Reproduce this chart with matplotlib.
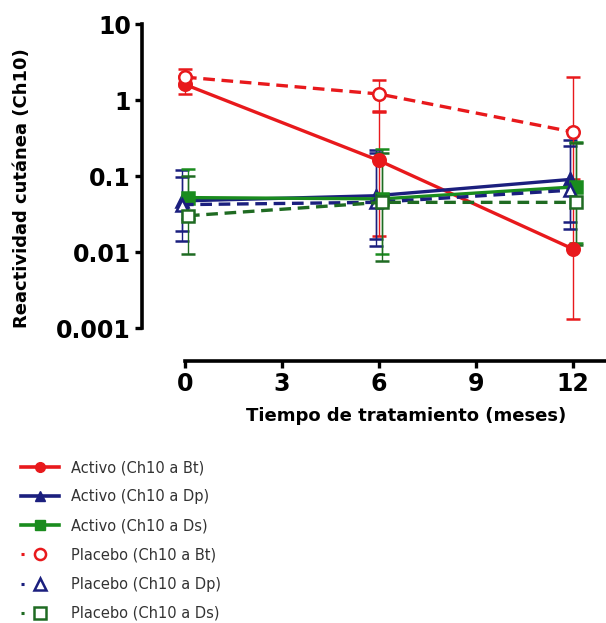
import matplotlib
matplotlib.use("Agg")
import matplotlib.pyplot as plt
import matplotlib.transforms as mtransforms
from matplotlib.lines import Line2D
import numpy as np

# time points (months)
months = [0, 6, 12]

# series: mean, lower and upper end of the error bar
activo_bt = [1.6, 0.16, 0.011]
activo_bt_lo = [1.2, 0.016, 0.0013]
activo_bt_hi = [2.1, 0.7, 0.09]

activo_dp = [0.047, 0.055, 0.09]
activo_dp_lo = [0.014, 0.015, 0.025]
activo_dp_hi = [0.12, 0.22, 0.3]

activo_ds = [0.052, 0.05, 0.072]
activo_ds_lo = [0.027, 0.0095, 0.013]
activo_ds_hi = [0.125, 0.23, 0.28]

placebo_bt = [2.0, 1.2, 0.38]
placebo_bt_lo = [1.55, 0.72, 0.075]
placebo_bt_hi = [2.55, 1.83, 2.0]

placebo_dp = [0.042, 0.045, 0.065]
placebo_dp_lo = [0.019, 0.012, 0.02]
placebo_dp_hi = [0.097, 0.2, 0.25]

placebo_ds = [0.03, 0.045, 0.045]
placebo_ds_lo = [0.0095, 0.0075, 0.0125]
placebo_ds_hi = [0.1, 0.2, 0.27]

labels = ["Activo (Ch10 a Bt)", "Activo (Ch10 a Dp)", "Activo (Ch10 a Ds)",
          "Placebo (Ch10 a Bt)", "Placebo (Ch10 a Dp)", "Placebo (Ch10 a Ds)"]
x_ticks = [0, 3, 6, 9, 12]
y_ticks = [10, 1, 0.1, 0.01, 0.001]
y_tick_labels = ["10", "1", "0.1", "0.01", "0.001"]

red = "#e8191c"
blue = "#1b1f7e"
green = "#1a8c1e"
dkgreen = "#1f6b22"

dash = (0, (3.5, 2))
# (values, low, high, colour, marker, filled, linestyle, pixel shift)
series = [
    (activo_bt, activo_bt_lo, activo_bt_hi, red, "o", True, "-", 0),
    (activo_dp, activo_dp_lo, activo_dp_hi, blue, "^", True, "-", -3),
    (activo_ds, activo_ds_lo, activo_ds_hi, green, "s", True, "-", 3),
    (placebo_bt, placebo_bt_lo, placebo_bt_hi, red, "o", False, dash, 0),
    (placebo_dp, placebo_dp_lo, placebo_dp_hi, blue, "^", False, dash, -3),
    (placebo_ds, placebo_ds_lo, placebo_ds_hi, dkgreen, "s", False, dash, 3),
]

fig = plt.figure(figsize=(6.06, 6.23), dpi=100)
ax = fig.add_axes([142 / 606, 1 - 328 / 623, (606 - 142) / 606, (328 - 24) / 623])

handles = []
for (vals, lo, hi, col, mk, filled, ls, shift), lab in zip(series, labels):
    vals = np.array(vals)
    yerr = [vals - np.array(lo), np.array(hi) - vals]
    tr = ax.transData + mtransforms.ScaledTranslation(shift / 100, 0, fig.dpi_scale_trans)
    cont = ax.errorbar(months, vals, yerr=yerr, color=col, ecolor=col, elinewidth=1,
                       capsize=5, capthick=1, lw=2.4, ls=ls, marker=mk, ms=9,
                       mfc=col if filled else "white", mec=col, mew=1.8, zorder=3)
    for art in [cont[0]] + list(cont[1]) + list(cont[2]):
        art.set_transform(tr)
    if filled:
        h = Line2D([], [], color=col, lw=2.6, marker=mk, ms=7, mfc=col, mec=col)
    else:
        h = Line2D([], [], color=col, lw=2.2, ls=(0, (1, 100)), marker=mk, ms=8,
                   mfc="white", mec=col, mew=1.8)
    handles.append(h)

ax.set_yscale("log")
ax.set_ylim(0.001, 10)
ax.set_xlim(-1.33, 13.03)
ax.set_yticks(y_ticks)
ax.set_yticklabels(y_tick_labels)
ax.minorticks_off()
ax.set_xticks(x_ticks)

for s in ["top", "right"]:
    ax.spines[s].set_visible(False)
ax.spines["left"].set_linewidth(2.6)
ax.spines["bottom"].set_linewidth(2.6)
ax.spines["bottom"].set_position(("outward", 24))
ax.spines["bottom"].set_bounds(0, 13.03)
ax.tick_params(axis="both", width=2.4, length=5, labelsize=17, pad=3)
for t in ax.get_xticklabels() + ax.get_yticklabels():
    t.set_fontweight("bold")

ax.set_ylabel("Reactividad cutánea (Ch10)", fontsize=13, fontweight="bold")
ax.yaxis.set_label_coords(-0.24, 0.46)
ax.set_xlabel("Tiempo de tratamiento (meses)", fontsize=13, fontweight="bold")
ax.xaxis.set_label_coords(0.57, -0.26)

fig.legend(handles, labels, loc="upper left", bbox_to_anchor=(0.013, 1 - 447 / 623),
           frameon=False, fontsize=10.5, labelspacing=0.97, handlelength=2.6,
           handletextpad=0.8, labelcolor="#333333")

fig.savefig("out.png", dpi=100)
